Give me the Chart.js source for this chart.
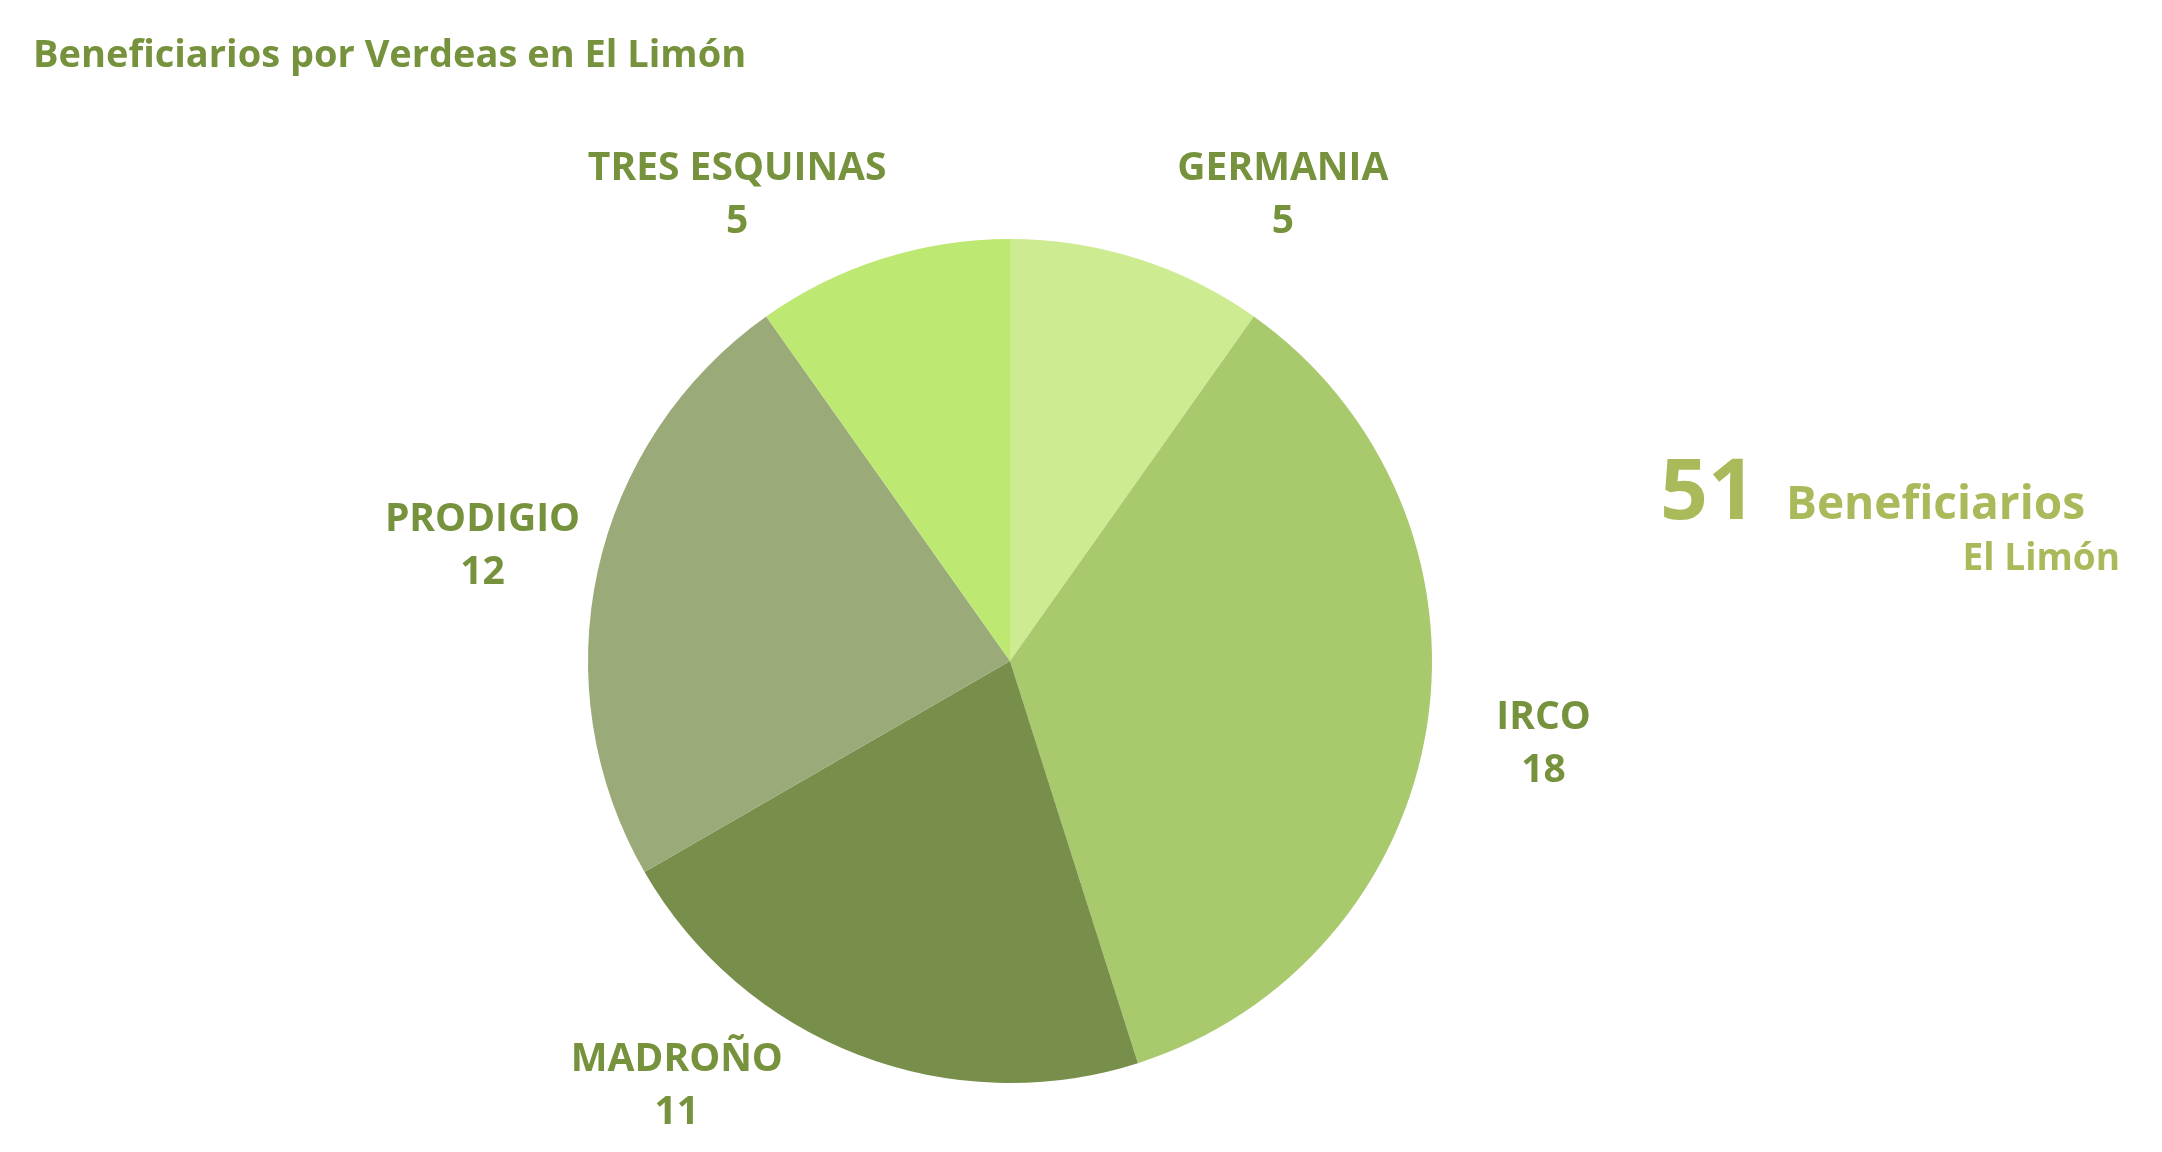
<!DOCTYPE html>
<html>
<head>
<meta charset="utf-8">
<script src="https://cdn.jsdelivr.net/npm/chart.js@4"></script>
<style>
  html, body { margin: 0; padding: 0; background: #fff; }
  #chart { display: block; }
</style>
</head>
<body>
<canvas id="chart" width="2162" height="1152"></canvas>
<script>
// data
const veredas = ['GERMANIA', 'IRCO', 'MADROÑO', 'PRODIGIO', 'TRES ESQUINAS'];
const beneficiarios = [5, 18, 11, 12, 5];
const sliceColors = ['#cdeb91', '#a8c96c', '#778f4b', '#9baa79', '#bde872'];

const chartTitle = 'Beneficiarios por Verdeas en El Limón';
const totalWord = 'Beneficiarios';
const place = 'El Limón';

const labelColor = '#76923c';
const totalColor = '#a9ba5a';
const fontFamily = '"Open Sans", "Noto Sans", sans-serif';

// labels outside the slices, pushed round the circle when they would leave the area
const sliceLabels = {
    id: 'sliceLabels',
    afterDraw(chart) {
        const ctx = chart.ctx;
        const arcs = chart.getDatasetMeta(0).data;
        const yMin = 195, yMax = 1086;

        ctx.save();
        ctx.fillStyle = labelColor;
        ctx.font = 'bold 39px ' + fontFamily;
        ctx.textAlign = 'center';
        ctx.textBaseline = 'middle';

        arcs.forEach((arc, i) => {
            const p = arc.getProps(['x', 'y', 'startAngle', 'endAngle', 'outerRadius'], true);
            const d = p.outerRadius + 118;
            // angle measured clockwise from the top
            let a = (p.startAngle + p.endAngle) / 2 + Math.PI / 2;
            let cy = p.y - d * Math.cos(a);
            const side = Math.sin(a) >= 0 ? 1 : -1;
            if (cy < yMin) {
                a = Math.acos((p.y - yMin) / d);
                cy = yMin;
            } else if (cy > yMax) {
                a = Math.acos((p.y - yMax) / d);
                cy = yMax;
            }
            const cx = p.x + side * d * Math.abs(Math.sin(a));
            ctx.fillText(veredas[i], cx, cy - 26);
            ctx.fillText(String(beneficiarios[i]), cx, cy + 27);
        });
        ctx.restore();
    }
};

// title and the total on the right
const extraText = {
    id: 'extraText',
    afterDraw(chart) {
        const ctx = chart.ctx;
        const total = beneficiarios.reduce((s, v) => s + v, 0);
        ctx.save();
        ctx.textBaseline = 'alphabetic';

        ctx.fillStyle = labelColor;
        ctx.font = 'bold 38px ' + fontFamily;
        ctx.textAlign = 'left';
        ctx.fillText(chartTitle, 33, 67);

        ctx.fillStyle = totalColor;
        ctx.font = 'bold 84px ' + fontFamily;
        ctx.fillText(String(total), 1660, 519);
        ctx.font = 'bold 46px ' + fontFamily;
        ctx.fillText(totalWord, 1786, 519);
        ctx.font = 'bold 37px ' + fontFamily;
        ctx.textAlign = 'right';
        ctx.fillText(place, 2120, 570);
        ctx.restore();
    }
};

const chart = document.querySelector('#chart').getContext('2d');

new Chart(chart, {
    type: 'pie',
    data: {
        labels: veredas,
        datasets: [
            {
                data: beneficiarios,
                backgroundColor: sliceColors,
                borderWidth: 0
            }
        ]
    },
    options: {
        responsive: false,
        animation: false,
        devicePixelRatio: 1,
        layout: {
            padding: { top: 239, bottom: 69, left: 300, right: 442 }
        },
        plugins: {
            legend: { display: false },
            title: { display: false },
            tooltip: { enabled: false }
        }
    },
    plugins: [sliceLabels, extraText]
});
</script>
</body>
</html>
